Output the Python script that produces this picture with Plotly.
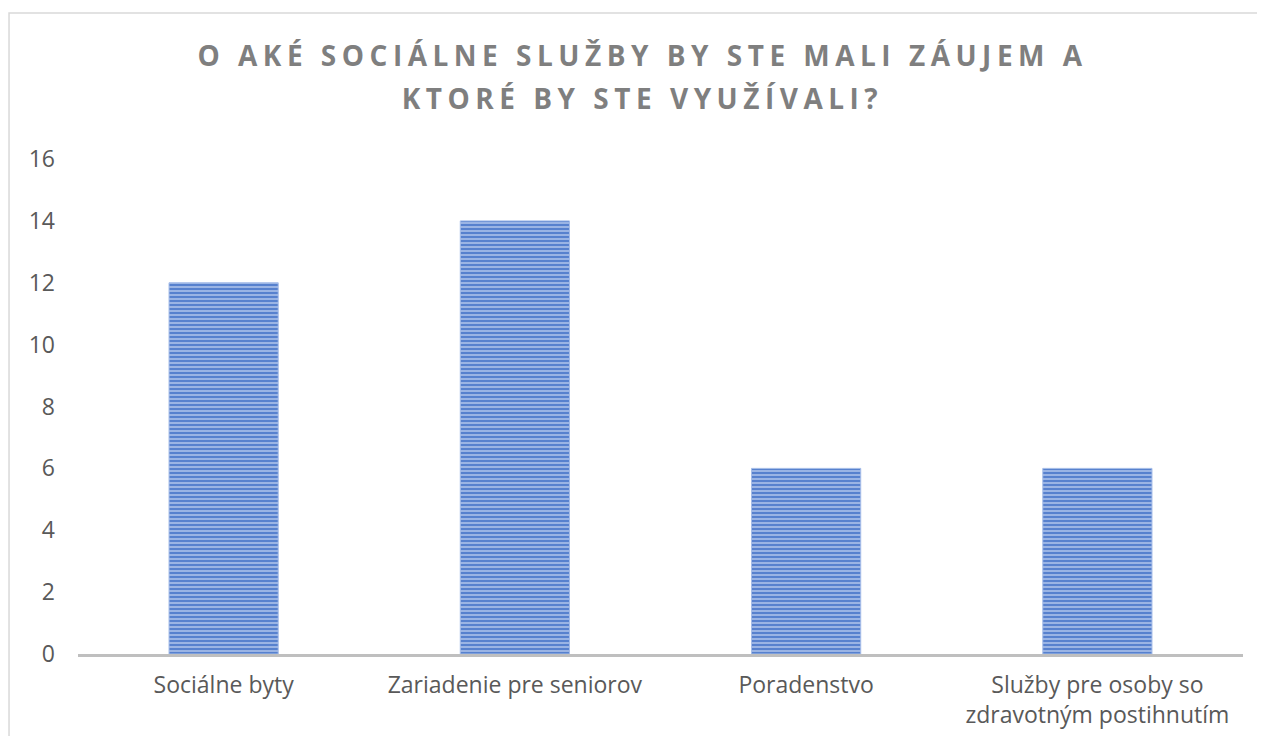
import plotly.graph_objects as go

CATEGORIES = [
    'Sociálne byty',
    'Zariadenie pre seniorov',
    'Poradenstvo',
    'Služby pre osoby so<br>zdravotným postihnutím',
]
VALUES = [12, 14, 6, 6]
TITLE = 'O AKÉ SOCIÁLNE SLUŽBY BY STE MALI ZÁUJEM A<br>KTORÉ BY STE VYUŽÍVALI?'
Y_TICKS = [0, 2, 4, 6, 8, 10, 12, 14, 16]

COLORS = {
    'bar': '#7096d8',
    'stripe': '#4f7bcc',
    'stripe_bg': '#9ab4e4',
    'edge': '#a4bce8',
    'axis': '#bfbfbf',
    'tick': '#595959',
    'title': '#7f7f7f',
    'border': '#d9d9d9',
}

fig = go.Figure()
fig.add_trace(go.Bar(
    x=CATEGORIES, y=VALUES,
    marker=dict(
        color=COLORS['bar'],
        line=dict(color=COLORS['edge'], width=1),
        pattern=dict(shape='-', size=4, solidity=0.45, fillmode='replace',
                     fgcolor=COLORS['stripe'], bgcolor=COLORS['stripe_bg']),
    ),
    width=0.375,
    hoverinfo='x+y',
))

# page body has an 8px margin, so the figure is 16px smaller than the window
fig.update_layout(
    width=1249, height=728,
    paper_bgcolor='white', plot_bgcolor='white',
    font=dict(family='Open Sans, sans-serif', color=COLORS['tick'], size=23),
    margin=dict(t=151, b=82, l=70, r=14),
    showlegend=False,
    title=dict(
        text=TITLE, x=0.508, xanchor='center', y=0.92, yanchor='top',
        font=dict(family='Open Sans, sans-serif', size=28, color=COLORS['title'], weight='bold'),
    ),
    xaxis=dict(
        showline=True, linecolor=COLORS['axis'], linewidth=3, automargin=False,
        showgrid=False, ticks='', ticklabelstandoff=8,
    ),
    yaxis=dict(
        range=[0, 16], tickvals=Y_TICKS, showgrid=False, zeroline=False,
        showline=False, ticks='', ticklabelstandoff=22, automargin=False,
    ),
    shapes=[dict(
        type='rect', xref='paper', yref='paper',
        x0=-0.0592, x1=1.2, y0=-0.4, y1=1.295,
        line=dict(color=COLORS['border'], width=1.5), layer='below',
    )],
)

# Excel-style spaced title: letter spacing and taller line gap
post = """
var gd = document.getElementById('{plot_id}');
var t = gd.querySelector('.gtitle');
if (t) {
  t.style.letterSpacing = '5.5px';
  var lines = t.querySelectorAll('tspan.line');
  if (lines.length > 1) { lines[1].setAttribute('dy', '1.53em'); }
}
"""

fig.write_html('out.html', post_script=post)
